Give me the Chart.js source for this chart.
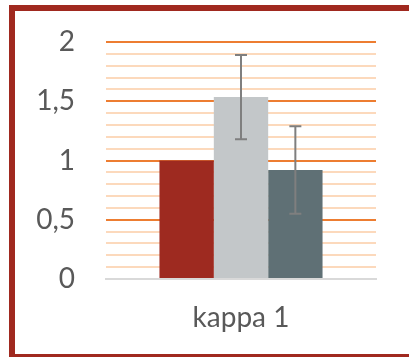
<!DOCTYPE html>
<html>
<head>
<meta charset="utf-8">
<script src="https://cdn.jsdelivr.net/npm/chart.js@4.4.1/dist/chart.umd.min.js"></script>
<style>
  html, body { margin: 0; padding: 0; background: #fff; }
  #wrap { position: relative; width: 409px; height: 357px; overflow: hidden; }
  #frame {
    position: absolute; left: 9px; top: 5px; width: 420px; height: 343px;
    border-left: 6px solid #A0291F; border-top: 6px solid #A0291F; border-bottom: 3px solid #A0291F;
    box-sizing: content-box;
  }
  canvas { position: absolute; left: 0; top: 0; }
</style>
</head>
<body>
<div id="wrap">
  <div id="frame"></div>
  <canvas id="c" width="409" height="357"></canvas>
</div>
<script>
const categories = ['kappa 1'];
const seriesNames = ['A', 'B', 'C'];
const seriesValues = [[1.0], [1.535], [0.92]];
const seriesErrors = [[null], [0.355], [0.37]];
const seriesColors = ['#9E2A20', '#C3C7C9', '#5F7075'];
const yMin = 0, yMax = 2, yStep = 0.1, yLabelStep = 0.5;

const errorBars = {
  id: 'errorBars',
  afterDatasetsDraw(chart) {
    const ctx = chart.ctx;
    const y = chart.scales.y;
    chart.data.datasets.forEach((ds, i) => {
      const meta = chart.getDatasetMeta(i);
      meta.data.forEach((bar, j) => {
        const e = seriesErrors[i][j];
        if (e == null) return;
        const v = ds.data[j];
        const top = y.getPixelForValue(v + e);
        const bot = y.getPixelForValue(v - e);
        const x = bar.x;
        ctx.save();
        ctx.strokeStyle = '#7F7F7F';
        ctx.lineWidth = 2;
        ctx.beginPath();
        ctx.moveTo(x, top); ctx.lineTo(x, bot);
        ctx.moveTo(x - 6, top); ctx.lineTo(x + 6, top);
        ctx.moveTo(x - 6, bot); ctx.lineTo(x + 6, bot);
        ctx.stroke();
        ctx.restore();
      });
    });
  }
};

const isLabel = v => Math.abs(v / yLabelStep - Math.round(v / yLabelStep)) < 1e-6;

new Chart(document.getElementById('c'), {
  type: 'bar',
  data: {
    labels: categories,
    datasets: seriesNames.map((n, i) => ({
      label: n,
      data: seriesValues[i],
      backgroundColor: seriesColors[i],
      borderWidth: 0,
      categoryPercentage: 0.604,
      barPercentage: 1.0
    }))
  },
  options: {
    responsive: false,
    animation: false,
    layout: { padding: { left: 0, right: 33, top: 42, bottom: 0 } },
    plugins: { legend: { display: false }, tooltip: { enabled: false } },
    scales: {
      x: {
        grid: { display: false, drawTicks: false },
        border: { display: true, color: '#D9D9D9', width: 2 },
        ticks: { color: '#595959', font: { family: 'Lato', size: 28 }, padding: 22 },
        afterFit(s) { s.height = 78; }
      },
      y: {
        min: yMin, max: yMax,
        grid: {
          drawTicks: false,
          lineWidth: 2,
          color: c => {
            const v = c.tick ? c.tick.value : 0;
            if (Math.abs(v) < 1e-9) return '#D9D9D9';
            return isLabel(v) ? '#ED7D31' : '#FCD9BC';
          }
        },
        border: { display: false },
        ticks: {
          stepSize: yStep,
          autoSkip: false,
          color: '#595959',
          font: { family: 'Lato', size: 28 },
          padding: 31,
          callback: v => isLabel(v) ? String(Math.round(v * 10) / 10).replace('.', ',') : ''
        },
        afterFit(s) { s.width = 106; s.paddingTop = 0; s.paddingBottom = 0; }
      }
    }
  },
  plugins: [errorBars]
});
</script>
</body>
</html>
